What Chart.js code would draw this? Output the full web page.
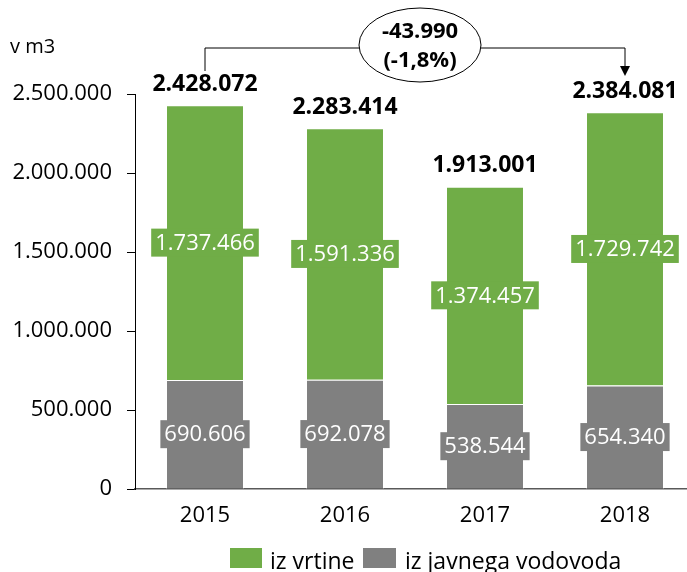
<!DOCTYPE html>
<html>
<head>
<meta charset="utf-8">
<script src="https://cdn.jsdelivr.net/npm/chart.js@4"></script>
<style>
  html, body { margin: 0; padding: 0; background: #fff; overflow: hidden; }
  #wrap { width: 687px; height: 572px; overflow: hidden; position: relative; }
  #chart { display: block; }
</style>
</head>
<body>
<div id="wrap"><canvas id="chart" width="695" height="572"></canvas></div>
<script>
const years = ['2015', '2016', '2017', '2018'];
const fromWells = [1737466, 1591336, 1374457, 1729742];   // iz vrtine
const fromMains = [690606, 692078, 538544, 654340];       // iz javnega vodovoda
const totals = [2428072, 2283414, 1913001, 2384081];
const yTicks = [0, 500000, 1000000, 1500000, 2000000, 2500000];
const changeLabel = ['-43.990', '(-1,8%)'];
const seriesNames = ['iz vrtine', 'iz javnega vodovoda'];

const GREEN = '#70AD47';
const GREY = '#808080';
const FONT = "'Open Sans', 'Noto Sans', sans-serif";

// 1234567 -> 1.234.567
const fmt = v => String(v).replace(/\B(?=(\d{3})+(?!\d))/g, '.');

const labelsPlugin = {
    id: 'labels',
    afterDatasetsDraw(chart) {
        const ctx = chart.ctx;
        const y = chart.scales.y;
        const x = chart.scales.x;
        ctx.save();
        ctx.textAlign = 'center';
        ctx.textBaseline = 'middle';

        // value labels inside the segments, on a box of the bar colour
        ctx.font = '22px ' + FONT;
        chart.data.datasets.forEach((ds, di) => {
            const meta = chart.getDatasetMeta(di);
            meta.data.forEach((bar, i) => {
                const txt = fmt(ds.data[i]);
                const cy = (bar.y + bar.base) / 2;
                const w = ctx.measureText(txt).width + 8;
                ctx.fillStyle = ds.backgroundColor;
                ctx.fillRect(bar.x - w / 2, cy - 14, w, 28);
                ctx.fillStyle = '#fff';
                ctx.fillText(txt, bar.x, cy + 1);
            });
        });

        // totals above the bars
        ctx.font = 'bold 23px ' + FONT;
        ctx.fillStyle = '#000';
        totals.forEach((t, i) => {
            ctx.fillText(fmt(t), x.getPixelForValue(i), y.getPixelForValue(t) - 21);
        });

        // bracket 2015 -> 2018 with change bubble
        const x0 = x.getPixelForValue(0);
        const x3 = x.getPixelForValue(3);
        const lineY = 48;
        ctx.strokeStyle = '#000';
        ctx.lineWidth = 1;
        ctx.beginPath();
        ctx.moveTo(x0, 71);
        ctx.lineTo(x0, lineY);
        ctx.lineTo(x3, lineY);
        ctx.lineTo(x3, 68);
        ctx.stroke();
        ctx.fillStyle = '#000';
        ctx.beginPath();
        ctx.moveTo(x3 - 5, 66);
        ctx.lineTo(x3 + 5, 66);
        ctx.lineTo(x3, 76);
        ctx.closePath();
        ctx.fill();

        const ex = (x0 + x3) / 2 + 5;
        ctx.beginPath();
        ctx.ellipse(ex, 45, 61, 37, 0, 0, Math.PI * 2);
        ctx.fillStyle = '#fff';
        ctx.fill();
        ctx.stroke();
        ctx.fillStyle = '#000';
        ctx.font = 'bold 22px ' + FONT;
        ctx.fillText(changeLabel[0], ex, 32);
        ctx.fillText(changeLabel[1], ex, 61);

        // unit
        ctx.font = '20px ' + FONT;
        ctx.textAlign = 'left';
        ctx.fillText('v m3', 10, 47);
        ctx.restore();
    },
    afterDraw(chart) {
        // legend
        const ctx = chart.ctx;
        ctx.save();
        ctx.font = '23px ' + FONT;
        ctx.textBaseline = 'middle';
        ctx.textAlign = 'left';
        ctx.fillStyle = GREEN;
        ctx.fillRect(230, 548, 32, 20);
        ctx.fillStyle = '#000';
        ctx.fillText(seriesNames[0], 270, 562);
        ctx.fillStyle = GREY;
        ctx.fillRect(363, 548, 33, 20);
        ctx.fillStyle = '#000';
        ctx.fillText(seriesNames[1], 405, 562);
        ctx.restore();
    }
};

new Chart(document.getElementById('chart'), {
    type: 'bar',
    data: {
        labels: years,
        datasets: [
            { label: seriesNames[1], data: fromMains, backgroundColor: GREY, borderColor: '#fff', borderWidth: 1, borderSkipped: 'bottom' },
            { label: seriesNames[0], data: fromWells, backgroundColor: GREEN, borderColor: '#fff', borderWidth: 1, borderSkipped: 'bottom' }
        ]
    },
    options: {
        responsive: false,
        animation: false,
        devicePixelRatio: 1,
        layout: { padding: { top: 94, left: 0, right: 0, bottom: 43 } },
        datasets: { bar: { categoryPercentage: 1, barPercentage: 0.557 } },
        plugins: { legend: { display: false }, tooltip: { enabled: false } },
        scales: {
            x: {
                stacked: true,
                grid: { display: false },
                border: { display: true, color: '#595959', width: 1.5 },
                ticks: { color: '#000', font: { family: FONT, size: 22 }, padding: 6 },
                afterFit: s => { s.height = 40; }
            },
            y: {
                stacked: true,
                min: 0,
                max: 2500000,
                afterBuildTicks: s => { s.ticks = yTicks.map(v => ({ value: v })); },
                grid: { drawOnChartArea: false, drawTicks: true, tickLength: 8, tickColor: '#000' },
                border: { display: true, color: '#000', width: 1 },
                ticks: { color: '#000', font: { family: FONT, size: 22 }, padding: 15, callback: v => fmt(v) },
                afterFit: s => { s.width = 135; }
            }
        }
    },
    plugins: [labelsPlugin]
});
</script>
</body>
</html>
